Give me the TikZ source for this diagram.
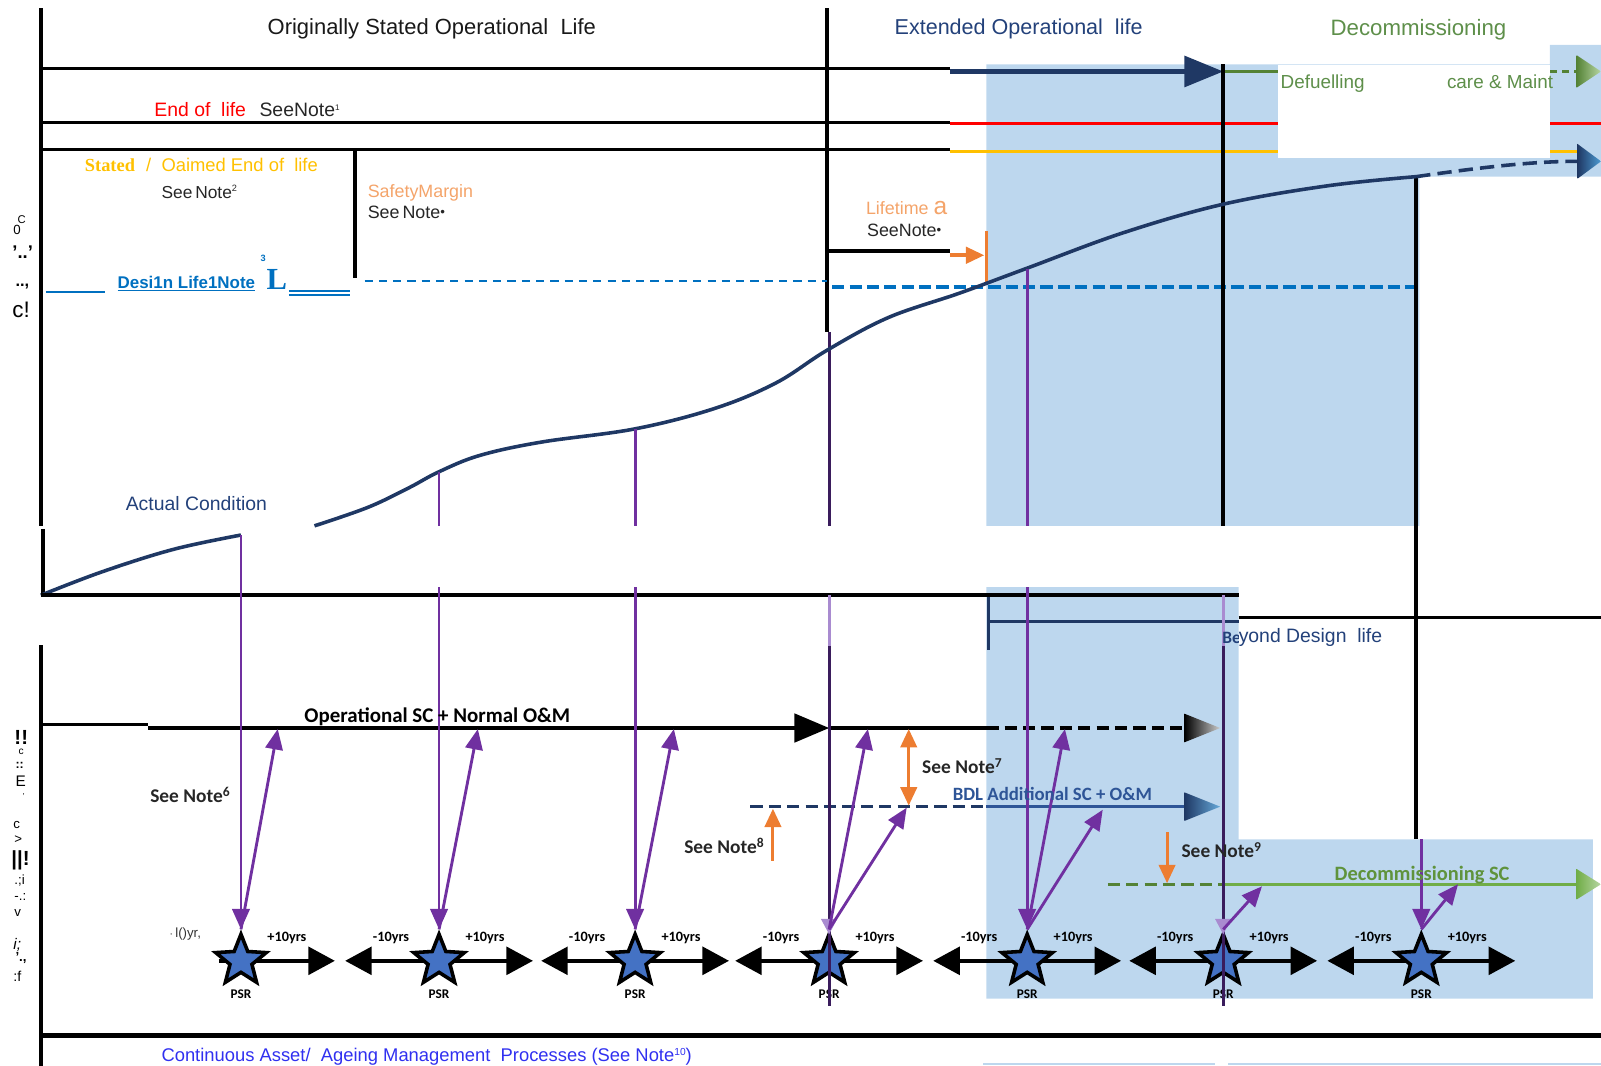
\documentclass[tikz,border=0pt]{standalone}
\usepackage{fontspec}
\setmainfont{Liberation Sans}
\newfontfamily\calib{Carlito}
\newfontfamily\serifb{Liberation Serif}
\usetikzlibrary{arrows.meta,shapes.geometric}
\definecolor{navy}{HTML}{1F3864}
\definecolor{bgblue}{HTML}{BDD7EE}
\definecolor{purp}{HTML}{7030A0}
\definecolor{dpurp}{HTML}{3A1C5C}
\definecolor{lpurp}{HTML}{A98BD0}
\definecolor{orng}{HTML}{ED7D31}
\definecolor{lorng}{HTML}{F4A46A}
\definecolor{yel}{HTML}{FFC000}
\definecolor{grn}{HTML}{548235}
\definecolor{lgrn}{HTML}{70AD47}
\definecolor{tgrn}{HTML}{5E8F4A}
\definecolor{dblue}{HTML}{0070C0}
\definecolor{tnavy}{HTML}{23417A}
\definecolor{cblue}{HTML}{3030F0}
\definecolor{starb}{HTML}{4472C4}
\definecolor{bdl}{HTML}{2E5597}
\newcommand\fsz[1]{\fontsize{#1}{#1}\selectfont}
\begin{document}
\begin{tikzpicture}[x=1pt,y=-1pt,
  txt/.style={inner sep=0pt, anchor=base west},
  ctxt/.style={inner sep=0pt, anchor=base},
  blk/.style={line width=3.5pt, black},
  pline/.style={line width=2.8pt, purp},
  parr/.style={pline, -{Triangle[length=20pt,width=17pt]}},
  harr/.style={line width=4pt, black, -{Triangle[length=26pt,width=27pt]}},
  oarr/.style={line width=3pt, orng, -{Triangle[length=18pt,width=16pt]}},
  psr/.style={star, star points=5, star point ratio=2.3, minimum size=52pt, inner sep=0pt, fill=starb, draw=black, line width=3.5pt},
]
\useasboundingbox (0,0) rectangle (1568,1044);

% ---------- background regions ----------
\fill[bgblue] (966,63) -- (1518,63) -- (1518,44) -- (1568,44) -- (1568,173) -- (1390,173) -- (1390,515) -- (966,515) -- cycle;
\fill[bgblue] (966,575) -- (1213,575) -- (1213,822) -- (1560,822) -- (1560,978) -- (966,978) -- cycle;

% ---------- upper panel lines ----------
\draw[blk, line width=4pt] (40,8) -- (40,515);
\draw[blk, line width=4pt] (42,518) -- (42,583);
\draw[blk, line width=4pt] (40,632) -- (40,1044);
\draw[blk, line width=4pt] (810,8) -- (810,325);
\draw[blk] (40,67) -- (930,67);
\draw[blk, line width=3pt] (40,120) -- (930,120);
\draw[blk, line width=3pt] (40,146) -- (930,146);
\draw[blk, line width=4pt] (348,146) -- (348,272);
\draw[red, line width=3pt] (930,121) -- (1568,121);
\draw[yel, line width=3pt] (930,148) -- (1545,148);
\coordinate (na0) at (930,70);
\coordinate (na1) at (1198,70);
\draw[navy, line width=4pt, -{Triangle[length=38pt,width=30pt]}] (na0) -- (na1);
\draw[grn, line width=3.5pt] (1198,70) -- (1252,70);
\draw[grn, line width=3.5pt, dash pattern=on 7pt off 5pt] (1518,70) -- (1546,70);
\shade[left color=grn, right color=lgrn!50] (1544,54) -- (1568,70) -- (1544,86) -- cycle;
% white box
\fill[white] (1252,64) rectangle (1518,155);

% design life
\draw[dblue, line width=1.5pt] (45,286) -- (103,286);
\draw[dblue, line width=1.5pt] (283,285) -- (343,285);
\draw[dblue, line width=1.5pt] (283,289) -- (343,289);
\draw[dblue, line width=2pt, dash pattern=on 8pt off 6pt] (357,275) -- (810,275);
\draw[dblue, line width=3.5pt, dash pattern=on 12pt off 5pt] (815,281) -- (1387,281);

% lifetime arrow
\draw[blk] (810,246) -- (930,246);
\coordinate (la0) at (930,250);
\coordinate (la1) at (964,250);
\draw[oarr, line width=3.5pt] (la0) -- (la1);
\draw[orng, line width=3pt] (966,226) -- (966,276);

% verticals in upper panel
\draw[blk, line width=4pt] (1198,63) -- (1198,515);
\draw[blk] (1387,173) -- (1387,822);
\draw[dpurp, line width=3pt] (812,325) -- (812,515);

% actual condition curve
\draw[navy, line width=3.5pt] plot[smooth, tension=0.6] coordinates {(308,515) (360,497) (400,478) (430,462) (470,446) (530,433) (622,420) (700,400) (760,375) (810,343) (870,311) (940,287) (1005,263) (1100,228) (1198,200) (1300,182) (1387,173)};
\draw[navy, line width=3.5pt] plot[smooth, tension=0.6] coordinates {(40,583) (100,560) (170,538) (236,524)};
\draw[navy, line width=3.5pt, dash pattern=on 14pt off 7pt] (1387,173) .. controls (1450,164) and (1500,158) .. (1545,158);
\shade[left color=navy, right color=dblue!70] (1545,141) -- (1568,158) -- (1545,175) -- cycle;

% purple verticals (upper)
\draw[pline] (430,462) -- (430,515);
\draw[pline] (622,420) -- (622,515);
\draw[pline] (1006,263) -- (1006,515);

% ---------- middle band ----------
\draw[blk] (40,583) -- (1213,583);
\draw[black, line width=2.5pt] (1213,605) -- (1568,605);
\draw[navy, line width=3pt] (968,609) -- (1213,609);
\draw[navy, line width=3pt] (968,585) -- (968,637);

% ---------- lower panel ----------
\draw[blk, line width=3pt] (40,710) -- (145,710);
\coordinate (op0) at (145,713);
\coordinate (op1) at (812,713);
\draw[black, line width=3pt, -{Triangle[length=34pt,width=28pt]}] (op0) -- (op1);
\draw[black, line width=3pt] (812,713) -- (966,713);
\draw[black, line width=3pt, dash pattern=on 12pt off 6pt] (966,713) -- (1162,713);
\shade[left color=black, right color=gray!40] (1160,699) -- (1195,713) -- (1160,727) -- cycle;

\draw[navy, line width=3pt, dash pattern=on 12pt off 6pt] (735,790) -- (966,790);
\draw[bdl, line width=3pt] (966,790) -- (1162,790);
\shade[left color=navy, right color=dblue!60] (1160,776) -- (1195,790) -- (1160,804) -- cycle;

\draw[grn, line width=3pt, dash pattern=on 12pt off 6pt] (1085,866) -- (1198,866);
\draw[lgrn, line width=3pt] (1198,866) -- (1546,866);
\shade[left color=lgrn, right color=lgrn!50] (1544,851) -- (1568,866) -- (1544,881) -- cycle;

% orange arrows
\coordinate (o7a) at (890,714);
\coordinate (o7b) at (890,789);
\draw[oarr, {Triangle[length=18pt,width=16pt]}-{Triangle[length=18pt,width=16pt]}] (o7a) -- (o7b);
\coordinate (o8a) at (757,843);
\coordinate (o8b) at (757,792);
\draw[oarr] (o8a) -- (o8b);
\coordinate (o9a) at (1143,815);
\coordinate (o9b) at (1143,865);
\draw[oarr] (o9a) -- (o9b);

% horizontal +-10yrs arrows
\foreach \x in {236,430,622,812,1006,1198,1392} \draw[harr] (\x-22,941) -- (\x+92,941);
\foreach \x in {430,622,812,1006,1198,1392} \draw[harr] (\x,941) -- (\x-92,941);

% stars
\foreach \x [count=\i] in {236,430,622,812,1006,1198,1392} {
  \node[psr] (st\i) at (\x,941) {};
  \node[ctxt, font={\calib\bfseries\fsz{13}}] (psr\i) at (\x,978) {PSR};
}

% purple down arrows into stars
\coordinate (p1) at (236,524);
\draw[parr] (p1) -- (st1.north);
\coordinate (p2) at (430,575);
\draw[parr] (p2) -- (st2.north);
\coordinate (p3) at (622,575);
\draw[parr] (p3) -- (st3.north);
\coordinate (p5) at (1006,575);
\draw[parr] (p5) -- (st5.north);
\coordinate (p7) at (1392,822);
\draw[parr] (p7) -- (st7.north);
% dark lines through 812 and 1198
\draw[lpurp, line width=3pt] (812,583) -- (812,633);
\draw[dpurp, line width=3pt] (812,633) -- (812,985);
\fill[lpurp] (804,900) -- (820,900) -- (812,915) -- cycle;
\draw[lpurp, line width=3pt] (1198,583) -- (1198,633);
\draw[dpurp, line width=3pt] (1198,633) -- (1198,985);
\fill[lpurp] (1190,900) -- (1206,900) -- (1198,915) -- cycle;

% purple up arrows from stars
\coordinate (u1) at (272,714);
\coordinate (u2) at (468,714);
\coordinate (u3) at (660,714);
\coordinate (u4a) at (850,714);
\coordinate (u4b) at (888,791);
\coordinate (u5a) at (1043,714);
\coordinate (u5b) at (1080,793);
\coordinate (u6) at (1236,868);
\coordinate (u7) at (1428,866);
\draw[parr] (st1.north) -- (u1);
\draw[parr] (st2.north) -- (u2);
\draw[parr] (st3.north) -- (u3);
\draw[parr] (st4.north) -- (u4a);
\draw[parr] (st4.north) -- (u4b);
\draw[parr] (st5.north) -- (u5a);
\draw[parr] (st5.north) -- (u5b);
\draw[parr] (st6.north) -- (u6);
\draw[parr] (st7.north) -- (u7);

% bottom line
\draw[blk, line width=5pt] (40,1014) -- (1568,1014);
\draw[bgblue, line width=2pt] (963,1042) -- (1190,1042);
\draw[bgblue, line width=2pt] (1203,1042) -- (1568,1042);

% ---------- texts ----------
\node[txt, font=\fsz{21.5}, text=black!90] (t1) at (262,34) {Originally Stated Operational\ \ Life};
\node[txt, font=\fsz{21.1}, text=tnavy] (t2) at (876,34) {Extended Operational\ \ life};
\node[txt, font=\fsz{21.8}, text=tgrn] (t3) at (1303,35) {Decommissioning};
\node[txt, font=\fsz{19}, text=red] (t4) at (151,114) {End of\ \ life};
\node[txt, font=\fsz{19}, text=black!85] (t5) at (254,114) {SeeNote\raisebox{6pt}{\fsz{8}1}};
\node[txt, font={\serifb\bfseries\fsz{18}}, text=yel] (t6) at (83,168) {Stated};
\node[txt, font=\fsz{18}, text=yel] (t7) at (143,168) {/\ \ Oaimed End of\ \ life};
\node[txt, font=\fsz{17}, text=black!85] (t8) at (158,194) {See\,Note\raisebox{6pt}{\fsz{9}2}};
\node[txt, font=\fsz{17.5}, text=lorng] (t9) at (360,193) {SafetyMargin};
\node[txt, font=\fsz{17.5}, text=black!85] (t10) at (360,214) {See\,Note\raisebox{2pt}{\fsz{13}•}};
\node[txt, font=\fsz{17.5}, text=lorng] (t11) at (848,210) {Lifetime \fsz{24}a};
\node[txt, font=\fsz{17.5}, text=black!85] (t12) at (849,232) {SeeNote\raisebox{2pt}{\fsz{13}•}};
\node[txt, font={\bfseries\fsz{16.6}}, text=dblue] (t13) at (115,283) {\underline{Desi1n Life1Note}};
\node[txt, font={\bfseries\fsz{9}}, text=dblue] (t14) at (255,256) {3};
\node[txt, font={\serifb\bfseries\fsz{30}}, text=dblue] (t15) at (261,284) {L};
\node[txt, font=\fsz{19}, text=tnavy] (t16) at (123,500) {Actual Condition};
\node[txt, font={\calib\bfseries\fsz{17}}, text=tnavy] (t17) at (1197,630) {Be};
\node[txt, font=\fsz{19}, text=tnavy, fill=white, inner sep=0pt] (t18) at (1213,629) {yond Design\ \ life};
\node[txt, font=\fsz{18.5}, text=tgrn] (t19) at (1254,87) {Defuelling};
\node[txt, font=\fsz{18.5}, text=tgrn] (t20) at (1417,87) {care \& Maint};

\node[txt, font={\calib\bfseries\fsz{20.5}}] (t21) at (298,708) {Operational SC + Normal O\&M};
\node[txt, font={\calib\bfseries\fsz{19}}, text=black!85] (t22) at (147,786) {See Note\textsuperscript{6}};
\node[txt, font={\calib\bfseries\fsz{19}}, text=black!85] (t23) at (903,758) {See Note\textsuperscript{7}};
\node[txt, font={\calib\bfseries\fsz{18.4}}, text=bdl] (t24) at (933,784) {BDL Additional SC + O\&M};
\node[txt, font={\calib\bfseries\fsz{19}}, text=black!85] (t25) at (670,836) {See Note\textsuperscript{8}};
\node[txt, font={\calib\bfseries\fsz{19}}, text=black!85] (t26) at (1157,840) {See Note\textsuperscript{9}};
\node[txt, font={\calib\bfseries\fsz{20}}, text=lgrn!85!black] (t27) at (1307,862) {Decommissioning SC};
\node[txt, font=\fsz{13}, text=black!80] (t28) at (166,918) {$\cdot$\,l()yr,};
\foreach \x [count=\i] in {236,430,622,812,1006,1198,1392} {
  \node[ctxt, font={\calib\bfseries\fsz{14}}] (pl\i) at (\x+45,922) {+10yrs};
}
\foreach \x [count=\i] in {430,622,812,1006,1198,1392} {
  \node[ctxt, font={\calib\bfseries\fsz{14}}] (mi\i) at (\x-47,922) {-10yrs};
}
\node[txt, font=\fsz{18}, text=cblue] (t29) at (158,1040) {Continuous Asset/\ \ Ageing Management\ \ Processes\ (See Note\raisebox{6pt}{\fsz{10}10})};

% garbled axis labels
\node[txt, font=\fsz{13}] (g1) at (13,230) {0};
\node[txt, font=\fsz{11}] (g2) at (17,219) {C};
\node[txt, font={\bfseries\fsz{18}}] (g3) at (12,253) {'..'};
\node[txt, font={\bfseries\fsz{16}}] (g4) at (15,281) {..,};
\node[txt, font=\fsz{22}] (g5) at (12,311) {c!};
\node[txt, font={\bfseries\fsz{20}}] (g6) at (14,729) {!!};
\node[txt, font=\fsz{10}] (g7) at (18,739) {c};
\node[txt, font={\bfseries\fsz{12}}] (g8) at (15,753) {::};
\node[txt, font=\fsz{15}] (g9) at (15,770) {E};
\node[txt, font=\fsz{8}] (g10) at (22,778) {,};
\node[txt, font=\fsz{13}] (g11) at (13,811) {c};
\node[txt, font=\fsz{13}] (g12) at (14,826) {>};
\node[txt, font={\bfseries\fsz{20}}] (g13) at (11,848) {||!};
\node[txt, font=\fsz{13}] (g14) at (14,866) {.;i};
\node[txt, font=\fsz{13}] (g15) at (14,882) {-.:};
\node[txt, font=\fsz{13}] (g16) at (14,898) {v};
\node[txt, font={\itshape\fsz{15}}] (g17) at (13,930) {i;};
\node[txt, font={\bfseries\fsz{13}}] (g18) at (15,942) {'.,};
\node[txt, font=\fsz{14}] (g19) at (13,961) {:f};
\end{tikzpicture}
\end{document}
